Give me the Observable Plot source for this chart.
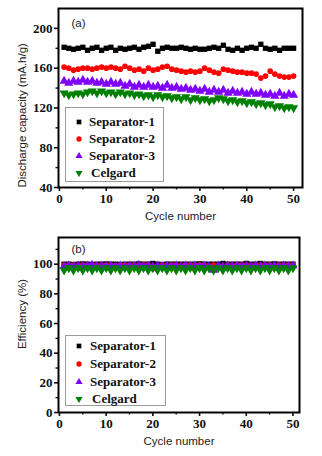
<!DOCTYPE html>
<html><head><meta charset="utf-8">
<script src="https://cdn.jsdelivr.net/npm/d3@7"></script>
<script src="https://cdn.jsdelivr.net/npm/@observablehq/plot@0.6"></script>
<style>
html,body{margin:0;padding:0;background:#fff;}
#wrap{position:relative;width:322px;height:456px;overflow:hidden;}
#wrap svg{display:block;}
.legend{position:absolute;border:1px solid #9a9a9a;background:#fff;box-sizing:border-box;}
.legend .row{position:absolute;left:0;height:16px;display:flex;align-items:center;white-space:nowrap;
  font-family:"Liberation Serif","Times New Roman",serif;font-weight:bold;font-size:13px;color:#111;}
.legend .row svg{margin-left:9px;margin-right:6px;}
</style>
</head><body><div id="wrap"></div>
<script>
const cycles = [1,2,3,4,5,6,7,8,9,10,11,12,13,14,15,16,17,18,19,20,21,22,23,24,25,26,27,28,29,30,31,32,33,34,35,36,37,38,39,40,41,42,43,44,45,46,47,48,49,50];
const seriesNames = ["Separator-1","Separator-2","Separator-3","Celgard"];
const seriesColors = ["#000000","#ff0000","#8000ff","#007f00"];
const seriesSymbols = ["square","circle","triangle","triangle"];
const seriesRotate = [0,0,0,180];

// (a) discharge capacity, mA.h/g
const capSep1 = [181,180,179,180,181,178,180,181,178,180,181,178,180,179,180,181,179,181,182,184,177,180,181,180,180,181,180,179,180,179,179,180,181,180,183,179,178,180,178,180,181,180,184,180,179,180,178,180,180,180];
const capSep2 = [161,160,158,159,160,160,159,160,161,160,161,160,159,162,160,158,159,157,160,158,159,161,162,159,158,157,156,157,156,157,160,158,156,155,159,158,157,156,156,155,155,154,150,152,157,154,152,151,151,152];
const capSep3 = [147,145,147,146,148,146,147,145,146,144,146,144,145,142,144,141,143,141,143,141,142,140,143,140,141,139,140,138,139,137,139,136,138,136,138,135,137,135,136,134,136,134,135,133,134,132,135,132,134,133];
const capCelgard = [135,133,134,135,134,136,137,135,137,135,136,134,136,134,135,133,134,132,133,131,133,131,132,130,131,129,131,128,130,128,129,127,128,130,129,127,128,126,127,125,126,124,125,123,124,121,122,120,121,120];

// (b) efficiency, %
const effSep1 = [100,100,99.8,100,100.2,100,99.8,100,100,100.2,100,100,99.8,100,100,100,100.2,100,100,100.5,100,99.8,100,100,100,100,100,100,100,100.2,100,100,100,100,100.5,100,100,100,100,100.5,100,100,100.5,100,100,100.2,100,100,100,100];
const effSep2 = [99.5,99,99.5,97.5,99.5,99,99.5,99.5,99,99.5,99.5,99,99.5,99.5,99,99.5,99,99.5,99.5,97,98.5,99.5,99,99.5,99.5,99,99.5,99.5,99,99.5,99.5,99,99.5,99,97.5,99.5,99,99.5,99.5,99.5,99,99.5,99.5,99,99.5,97.5,99.5,99,99.5,99.5];
const effSep3 = [98.5,99,98.5,99,98.5,99,99.5,98.5,99,98.5,99,98.5,99,98.5,99,98.5,99.5,98.5,99,98.5,99,98.5,99,98.5,99,98.5,99,98.5,99,98.5,99,98.5,96,99,98.5,99,98.5,99,98.5,99,98.5,99,98.5,99,98.5,99,98.5,99,98.5,99];
const effCelgard = [96,97.5,96,97.5,96,97.5,96,97.5,96,97.5,96,97.5,96,97.5,96,97.5,96,97.5,96,97.5,96,97.5,96,97.5,96,97.5,96,97.5,96,97.5,96,97.5,96,97.5,96,97.5,96,97.5,96,97.5,96,97.5,96,97.5,96,97.5,96,97.5,96,97.5];

const xTicks = [0,10,20,30,40,50];
const xMinorTicks = [5,15,25,35,45];
const capTicks = [40,80,120,160,200];
const capMinorTicks = [60,100,140,180];
const effTicks = [0,20,40,60,80,100];
const effMinorTicks = [10,30,50,70,90,110];

const capSeries = [capSep1, capSep2, capSep3, capCelgard];
const effSeries = [effSep1, effSep2, effSep3, effCelgard];

function rowsFor(seriesArr) {
  return seriesNames.map((name, s) => cycles.map((c, i) => ({cycle: c, value: seriesArr[s][i], series: name})));
}

const sansFont = "'Liberation Sans', Arial, sans-serif";
const serifFont = "'Liberation Serif', 'Times New Roman', serif";
const tickText = {fontFamily: serifFont, fontWeight: "bold", fontSize: 13, fill: "#111"};

function panel({rows, yDomain, yTicks, yMinor, xDomain, marginTop, marginBottom, marginRight, height, yTitle, yTitleOpts, tag, tagDy}) {
  const dots = rows.map((r, s) => Plot.dot(r, {
    x: "cycle", y: "value", symbol: seriesSymbols[s], rotate: seriesRotate[s],
    fill: seriesColors[s], stroke: "none", r: s === 1 ? 2.8 : (s === 0 ? 3.0 : 3.4)
  }));
  return Plot.plot({
    width: 322, height, marginTop, marginBottom, marginLeft: 58, marginRight,
    x: {domain: xDomain, label: null},
    y: {domain: yDomain, label: null},
    style: {fontFamily: serifFont, fontSize: "13px", fontWeight: "bold", color: "#111", background: "transparent", overflow: "visible"},
    marks: [
      Plot.axisX({ticks: xMinorTicks, tickSize: 2.5, tickFormat: () => "", label: null, strokeWidth: 1.4}),
      Plot.axisX({ticks: xTicks, tickSize: 4, tickPadding: 2, tickFormat: d => String(d), label: null, strokeWidth: 1.6, ...tickText}),
      Plot.axisY({ticks: yMinor, tickSize: 2.5, tickFormat: () => "", label: null, strokeWidth: 1.4}),
      Plot.axisY({ticks: yTicks, tickSize: 4, tickPadding: 2, tickFormat: d => String(d), label: null, strokeWidth: 1.6, ...tickText}),
      ...dots,
      Plot.frame({stroke: "#000", strokeWidth: 2}),
      Plot.text([tag], {text: d => d, frameAnchor: "top-left", textAnchor: "start", lineAnchor: "middle", dx: 13, dy: tagDy,
        fontFamily: sansFont, fontWeight: "normal", fontSize: 11.5, fill: "#222"}),
      Plot.text(["Cycle number"], {text: d => d, frameAnchor: "bottom", textAnchor: "middle", lineAnchor: "middle", dy: 29,
        fontFamily: sansFont, fontWeight: "normal", fontSize: 11.5, fill: "#222"}),
      Plot.text([yTitle], {text: d => d, rotate: -90, lineAnchor: "middle", fontFamily: sansFont, fontWeight: "normal", fontSize: 11.5, fill: "#222", ...yTitleOpts})
    ]
  });
}

const wrap = document.getElementById("wrap");

const p1 = panel({
  rows: rowsFor(capSeries), yDomain: [40, 220], yTicks: capTicks, yMinor: capMinorTicks,
  xDomain: [-0.2, 51.9], marginTop: 8, marginBottom: 41, marginRight: 20, height: 228,
  yTitle: "Discharge capacity (mA.h/g)", yTitleOpts: {frameAnchor: "bottom-left", textAnchor: "start", dx: -36, dy: 0},
  tag: "(a)", tagDy: 15
});
const p2 = panel({
  rows: rowsFor(effSeries), yDomain: [0, 118], yTicks: effTicks, yMinor: effMinorTicks,
  xDomain: [-0.2, 51.4], marginTop: 9, marginBottom: 44, marginRight: 23, height: 228,
  yTitle: "Efficiency (%)", yTitleOpts: {frameAnchor: "left", textAnchor: "middle", dx: -36, dy: -11},
  tag: "(b)", tagDy: 12
});
wrap.appendChild(p1);
wrap.appendChild(p2);

function legendBox(left, top, width, height, rowTops, textLefts) {
  const box = document.createElement("div");
  box.className = "legend";
  Object.assign(box.style, {left: left + "px", top: top + "px", width: width + "px", height: height + "px"});
  seriesNames.forEach((name, s) => {
    const row = document.createElement("div");
    row.className = "row";
    row.style.top = rowTops[s] + "px";
    const sym = {square: d3.symbolSquare, circle: d3.symbolCircle, triangle: d3.symbolTriangle}[seriesSymbols[s]];
    const svg = d3.create("svg").attr("width", 8).attr("height", 8).attr("viewBox", "-4 -4 8 8");
    svg.append("path").attr("d", d3.symbol(sym, 22)()).attr("fill", seriesColors[s]).attr("transform", `rotate(${seriesRotate[s]})`);
    row.appendChild(svg.node());
    const t = document.createElement("span");
    t.textContent = name;
    if (textLefts[s]) t.style.marginLeft = textLefts[s] + "px";
    row.appendChild(t);
    box.appendChild(row);
  });
  wrap.appendChild(box);
}
legendBox(65, 107, 99, 75, [6, 23, 40, 57], [0, 0, 0, 2]);
legendBox(65, 335, 101, 71, [2, 20, 38, 55], [1, 1, 1, 3]);
</script>
</body></html>
